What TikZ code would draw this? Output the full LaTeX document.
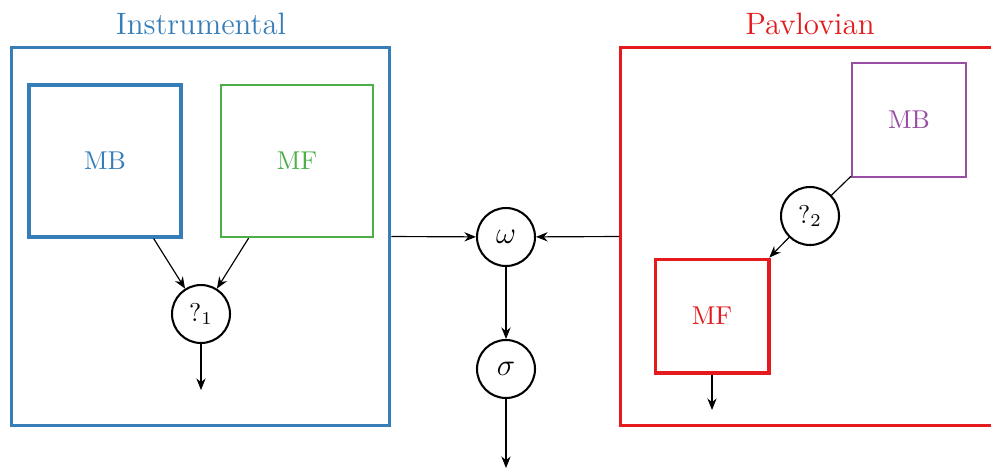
\documentclass[tikz,border=0pt]{standalone}
\usepackage{amsmath, amssymb}
\usepackage{xcolor}
\usepackage{tikz}
\usetikzlibrary{
  arrows.meta,
  positioning
}

\definecolor{setblue}{RGB}{55,126,184}
\definecolor{setgreen}{RGB}{77,175,74}
\definecolor{setred}{RGB}{228,26,28}
\definecolor{setpurple}{RGB}{152,78,163}

\tikzset{
  system/.style={rectangle, line width=1.2pt, minimum width=147pt, minimum height=147pt},
  module/.style={rectangle, minimum width=#1, minimum height=#1},
  gate/.style={circle, draw=black, line width=0.8pt, minimum size=22.5pt, inner sep=0pt},
  flow/.style={-{Stealth[length=4.5pt, width=3.6pt]}, line width=0.45pt}
}

\begin{document}
\begin{tikzpicture}[x=0.388pt, y=-0.388pt]
  \useasboundingbox (0,0) rectangle (991,468);

  % instrumental system
  \node[system, draw=setblue] (instr) at (200.5,236.5) {};
  \node[text=setblue, font=\large] (instrtitle) at (201,24) {Instrumental};
  \node[module=59pt, draw=setblue, line width=1.2pt, text=setblue] (mbI) at (105,161) {MB};
  \node[module=59pt, draw=setgreen, line width=0.8pt, text=setgreen] (mfI) at (297,161) {MF};
  \node[gate] (q1) at (201,314) {$?_1$};
  \coordinate (outI) at (201,390);
  \draw[flow] (mbI) -- (q1);
  \draw[flow] (mfI) -- (q1);
  \draw[flow] (q1) -- (outI);

  % pavlovian system
  \node[system, draw=setred] (pav) at (810,236.5) {};
  \node[text=setred, font=\large] (pavtitle) at (810,24) {Pavlovian};
  \node[module=44.2pt, draw=setpurple, line width=0.8pt, text=setpurple] (mbP) at (909,120) {MB};
  \node[module=44.2pt, draw=setred, line width=1.2pt, text=setred] (mfP) at (712,316) {MF};
  \node[gate] (q2) at (810,216) {$?_2$};
  \coordinate (outP) at (712,410);
  \draw[line width=0.45pt] (mbP) -- (q2);
  \draw[flow] (q2) -- (mfP);
  \draw[flow] (mfP) -- (outP);

  % arbitration
  \node[gate, font=\large] (omega) at (506,237) {$\omega$};
  \node[gate, font=\large] (sigma) at (506,369) {$\sigma$};
  \coordinate (outS) at (506,468);
  \draw[flow] (instr.east) -- (omega);
  \draw[flow] (pav.west) -- (omega);
  \draw[flow] (omega) -- (sigma);
  \draw[flow] (sigma) -- (outS);
\end{tikzpicture}
\end{document}
